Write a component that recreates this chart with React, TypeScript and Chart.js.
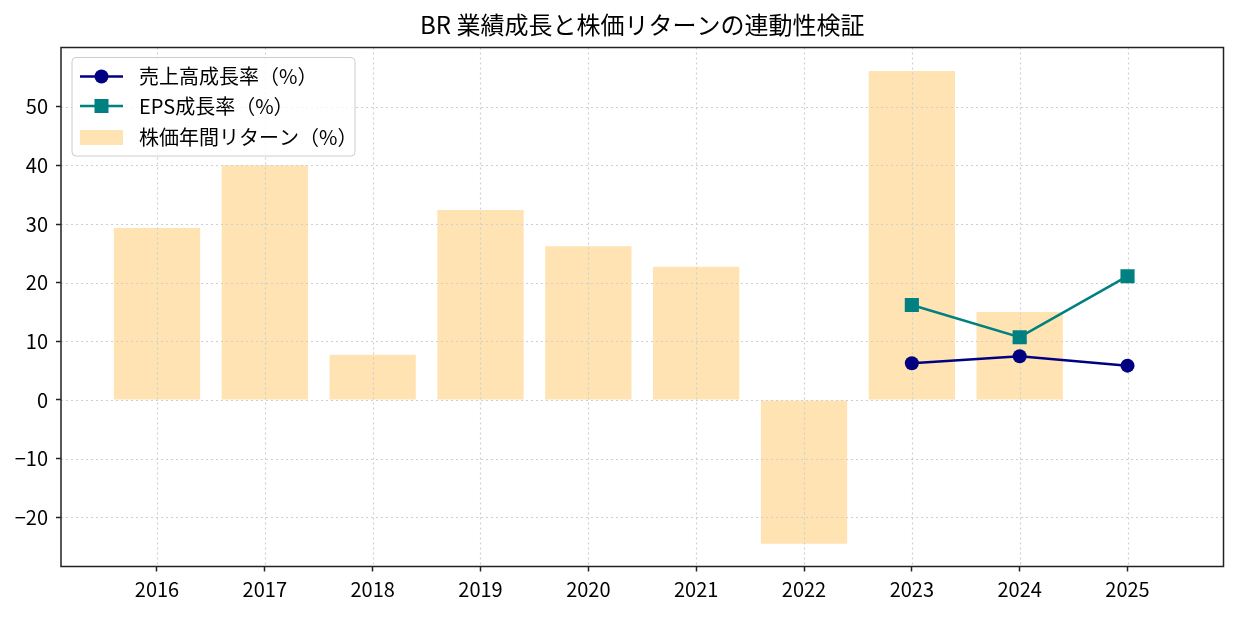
import React, { useEffect, useRef } from "react";
import { Chart, registerables } from "chart.js";

Chart.register(...registerables);

const years = ["2016", "2017", "2018", "2019", "2020", "2021", "2022", "2023", "2024", "2025"];
const stockReturn: (number | null)[] = [29.3, 40.0, 7.7, 32.4, 26.2, 22.7, -24.5, 56.1, 15.0, null];
const salesGrowth: (number | null)[] = [null, null, null, null, null, null, null, 6.25, 7.45, 5.85];
const epsGrowth: (number | null)[] = [null, null, null, null, null, null, null, 16.2, 10.7, 21.1];
const yTicks = [-20, -10, 0, 10, 20, 30, 40, 50];

const titleText = "BR 業績成長と株価リターンの連動性検証";
const legendSales = "売上高成長率（%）";
const legendEps = "EPS成長率（%）";
const legendReturn = "株価年間リターン（%）";

const FONT = "'Noto Sans CJK JP', 'Noto Sans', sans-serif";
const NAVY = "#000080";
const TEAL = "#008080";
const BAR = "#FFE3B3";

const overlay = {
  id: "overlay",
  afterDatasetDraw(chart: any, args: any) {
    if (args.index !== 2) return;
    const { ctx, chartArea: a, scales } = chart;
    const x = scales.x;
    const y = scales.y;
    ctx.save();
    ctx.beginPath();
    ctx.rect(a.left, a.top, a.right - a.left, a.bottom - a.top);
    ctx.clip();
    ctx.strokeStyle = "#cfcfcf";
    ctx.lineWidth = 1.2;
    ctx.setLineDash([2, 3]);
    years.forEach((_, i) => {
      const px = Math.round(x.getPixelForValue(i)) + 0.5;
      ctx.beginPath();
      ctx.moveTo(px, a.top);
      ctx.lineTo(px, a.bottom);
      ctx.stroke();
    });
    yTicks.forEach((v) => {
      const py = Math.round(y.getPixelForValue(v)) + 0.5;
      ctx.beginPath();
      ctx.moveTo(a.left, py);
      ctx.lineTo(a.right, py);
      ctx.stroke();
    });
    ctx.restore();
  },
  afterDraw(chart: any) {
    const { ctx, chartArea: a } = chart;
    ctx.save();
    // frame
    ctx.strokeStyle = "#222222";
    ctx.lineWidth = 1.5;
    ctx.strokeRect(a.left, a.top, a.right - a.left, a.bottom - a.top);
    // title
    ctx.fillStyle = "#000";
    ctx.font = `24px ${FONT}`;
    ctx.textAlign = "center";
    ctx.textBaseline = "middle";
    ctx.fillText(titleText, (a.left + a.right) / 2, 25);
    // legend
    const bx = 72, by = 57.5, bw = 283, bh = 98.5, r = 4;
    ctx.beginPath();
    ctx.moveTo(bx + r, by);
    ctx.lineTo(bx + bw - r, by);
    ctx.quadraticCurveTo(bx + bw, by, bx + bw, by + r);
    ctx.lineTo(bx + bw, by + bh - r);
    ctx.quadraticCurveTo(bx + bw, by + bh, bx + bw - r, by + bh);
    ctx.lineTo(bx + r, by + bh);
    ctx.quadraticCurveTo(bx, by + bh, bx, by + bh - r);
    ctx.lineTo(bx, by + r);
    ctx.quadraticCurveTo(bx, by, bx + r, by);
    ctx.closePath();
    ctx.fillStyle = "rgba(255,255,255,0.8)";
    ctx.fill();
    ctx.strokeStyle = "#cccccc";
    ctx.lineWidth = 1;
    ctx.stroke();

    const rows = [76.5, 106, 137.5];
    const lx0 = 80, lx1 = 123, mx = 101.5, tx = 139;
    // row 1
    ctx.strokeStyle = NAVY;
    ctx.lineWidth = 2.5;
    ctx.beginPath();
    ctx.moveTo(lx0, rows[0]);
    ctx.lineTo(lx1, rows[0]);
    ctx.stroke();
    ctx.fillStyle = NAVY;
    ctx.beginPath();
    ctx.arc(mx, rows[0], 7, 0, Math.PI * 2);
    ctx.fill();
    // row 2
    ctx.strokeStyle = TEAL;
    ctx.beginPath();
    ctx.moveTo(lx0, rows[1]);
    ctx.lineTo(lx1, rows[1]);
    ctx.stroke();
    ctx.fillStyle = TEAL;
    ctx.fillRect(mx - 7, rows[1] - 7, 14, 14);
    // row 3
    ctx.fillStyle = BAR;
    ctx.fillRect(lx0, rows[2] - 7.5, lx1 - lx0, 15);

    ctx.fillStyle = "#000";
    ctx.font = `20px ${FONT}`;
    ctx.textAlign = "left";
    ctx.textBaseline = "middle";
    ctx.fillText(legendSales, tx, rows[0]);
    ctx.fillText(legendEps, tx, rows[1]);
    ctx.fillText(legendReturn, tx, rows[2]);
    ctx.restore();
  },
};

export default function App() {
  const ref = useRef<HTMLCanvasElement | null>(null);
  useEffect(() => {
    document.body.style.margin = "0";
    const canvas = ref.current!;
    const chart = new Chart(canvas, {
      type: "bar",
      data: {
        datasets: [
          {
            type: "line",
            label: legendSales,
            data: salesGrowth.map((v, i) => ({ x: i, y: v })) as any,
            borderColor: NAVY,
            backgroundColor: NAVY,
            borderWidth: 2.5,
            pointStyle: "circle",
            pointRadius: 7,
            pointBorderWidth: 0,
          },
          {
            type: "line",
            label: legendEps,
            data: epsGrowth.map((v, i) => ({ x: i, y: v })) as any,
            borderColor: TEAL,
            backgroundColor: TEAL,
            borderWidth: 2.5,
            pointStyle: "rect",
            pointRadius: 10,
            pointBorderWidth: 0,
          },
          {
            type: "bar",
            label: legendReturn,
            data: stockReturn.map((v, i) => ({ x: i, y: v })) as any,
            backgroundColor: BAR,
            borderWidth: 0,
            barPercentage: 0.8,
            categoryPercentage: 1.0,
          },
        ],
      },
      options: {
        animation: false,
        responsive: false,
        devicePixelRatio: 1,
        layout: { padding: { left: 0, right: 14.5, top: 47.5, bottom: 0 } },
        plugins: {
          legend: { display: false },
          title: { display: false },
          tooltip: { enabled: false },
        },
        scales: {
          x: {
            type: "linear",
            offset: false,
            min: -0.89,
            max: 9.89,
            afterBuildTicks: (s: any) => {
              s.ticks = years.map((_, i) => ({ value: i }));
            },
            afterFit: (s: any) => {
              s.height = 617 - 566.5;
            },
            ticks: {
              autoSkip: false,
              maxRotation: 0,
              padding: 6,
              color: "#000",
              font: { family: FONT, size: 20 },
              callback: (v: any) => years[v as number] ?? "",
            },
            grid: {
              offset: false,
              color: "transparent",
              tickColor: "#222222",
              tickLength: 5,
              tickWidth: 1.5,
            },
            border: { display: false },
          },
          y: {
            type: "linear",
            min: -28.4,
            max: 60.1,
            afterBuildTicks: (s: any) => {
              s.ticks = yTicks.map((v) => ({ value: v }));
            },
            afterFit: (s: any) => {
              s.width = 61;
            },
            ticks: {
              padding: 8,
              color: "#000",
              font: { family: FONT, size: 20 },
              callback: (v: any) => (v < 0 ? "\u2212" + Math.abs(v) : String(v)),
            },
            grid: {
              color: "transparent",
              tickColor: "#222222",
              tickLength: 5,
              tickWidth: 1.5,
            },
            border: { display: false },
          },
        },
      },
      plugins: [overlay],
    });
    return () => chart.destroy();
  }, []);
  return <canvas ref={ref} width={1238} height={617} style={{ display: "block" }} />;
}
